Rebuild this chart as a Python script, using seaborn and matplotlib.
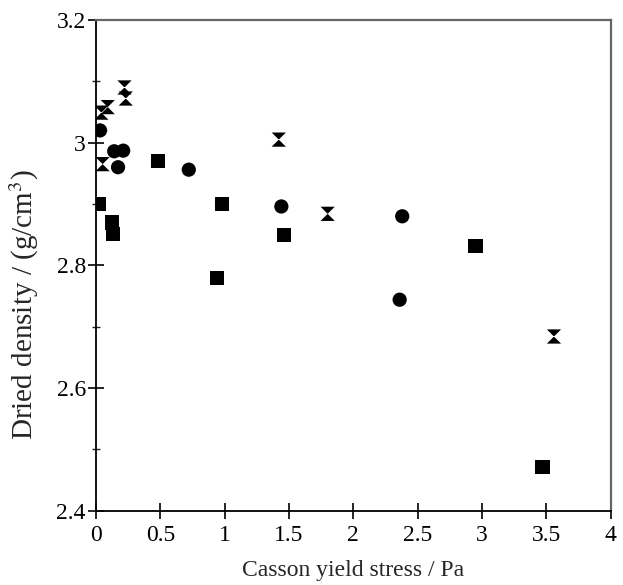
import numpy as np
import pandas as pd
import seaborn as sns
import matplotlib.pyplot as plt
from matplotlib.ticker import MultipleLocator

# data
sq_x = [0.02, 0.12, 0.13, 0.48, 0.98, 1.46, 0.94, 2.95, 3.47]
sq_y = [2.900, 2.870, 2.851, 2.970, 2.900, 2.850, 2.780, 2.831, 2.471]

ci_x = [0.03, 0.14, 0.21, 0.17, 0.72, 1.44, 2.36, 2.38]
ci_y = [3.020, 2.986, 2.987, 2.960, 2.956, 2.896, 2.744, 2.880]

hg_x = [0.04, 0.09, 0.22, 0.23, 0.05, 1.42, 1.80, 3.56]
hg_y = [3.049, 3.058, 3.090, 3.072, 2.965, 3.005, 2.884, 2.684]

df = pd.DataFrame({
    "x": sq_x + ci_x + hg_x,
    "y": sq_y + ci_y + hg_y,
    "set": ["sq"] * len(sq_x) + ["ci"] * len(ci_x) + ["hg"] * len(hg_x),
})

sns.set_style("ticks")
plt.rcParams["font.family"] = ["Liberation Serif", "DejaVu Serif"]
plt.rcParams["mathtext.fontset"] = "stix"

fig = plt.figure(figsize=(6.23, 5.85), dpi=100)
ax = fig.add_axes([0.1544, 0.127, 0.8256, 0.8388])

hourglass = [(-1, 1), (1, 1), (-1, -1), (1, -1), (-1, 1)]
sns.scatterplot(data=df, x="x", y="y", style="set",
                markers={"sq": "s", "ci": "o", "hg": hourglass},
                color="black", s=105, linewidth=0, legend=False, ax=ax)

ax.set_xlim(0, 4)
ax.set_ylim(2.4, 3.2)
ax.yaxis.set_minor_locator(MultipleLocator(0.1))
ax.set_xticks([0, 0.5, 1, 1.5, 2, 2.5, 3, 3.5, 4], ["0", "0.5", "1", "1.5", "2", "2.5", "3", "3.5", "4"])
ax.set_yticks([2.4, 2.6, 2.8, 3.0, 3.2], ["2.4", "2.6", "2.8", "3", "3.2"])

ax.tick_params(axis="both", which="major", direction="inout", length=11, width=1.2,
               labelsize=17, colors="black", top=False, right=False)
ax.tick_params(axis="y", which="minor", direction="inout", length=6, width=1.0, right=False)
ax.tick_params(axis="x", pad=5)
ax.tick_params(axis="y", pad=2)

for side in ["left", "bottom"]:
    ax.spines[side].set_color("black")
    ax.spines[side].set_linewidth(1.3)
for side in ["top", "right"]:
    ax.spines[side].set_visible(True)
    ax.spines[side].set_color("#666666")
    ax.spines[side].set_linewidth(1.6)

ax.set_xlabel("Casson yield stress / Pa", fontsize=17)
ax.set_ylabel("Dried density / (g/cm$^3$)", fontsize=21)
ax.xaxis.set_label_coords(0.5, -0.10)
ax.yaxis.set_label_coords(-0.108, 0.42)

fig.savefig("out.png", dpi=100)
